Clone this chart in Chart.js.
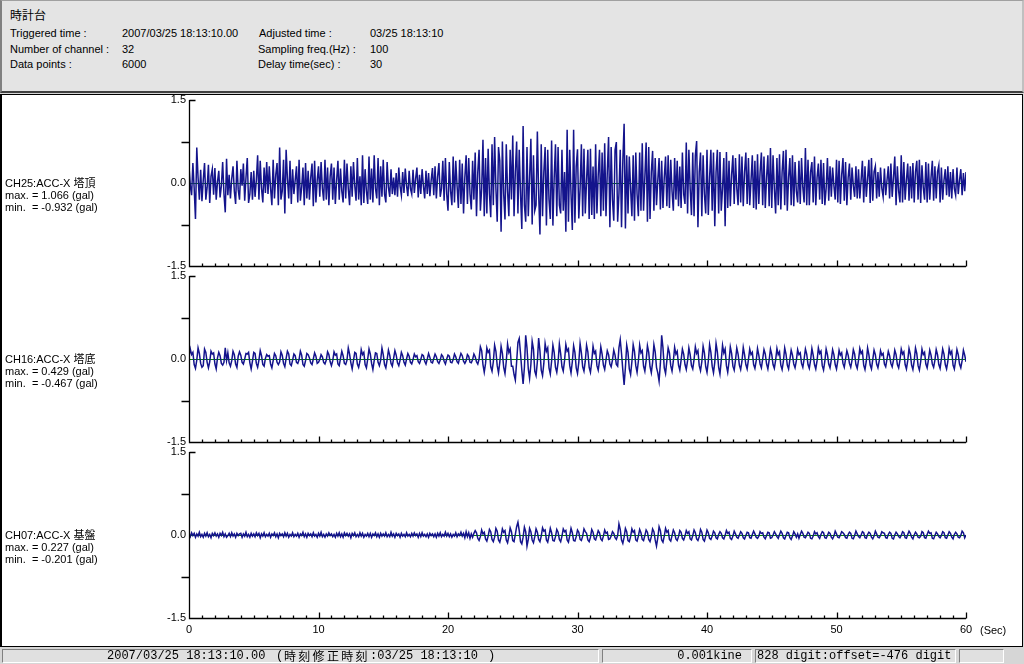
<!DOCTYPE html>
<html><head><meta charset="utf-8">
<script src="https://cdn.jsdelivr.net/npm/chart.js@4.4.1/dist/chart.umd.min.js"></script>
<style>
html,body{margin:0;padding:0;width:1024px;height:664px;overflow:hidden;background:#d6d6d6;font-family:"Liberation Sans","Noto Sans CJK JP",sans-serif;font-size:11px;color:#000;}
#hdr{position:absolute;left:0;top:0;width:1020px;height:90px;background:#e4e4e4;border-top:1px solid #a0a0a0;border-left:2px solid #808080;border-right:2px solid #c0c0c0;border-bottom:2px solid #404040;}
#panel{position:absolute;left:0;top:94px;width:1020px;height:551px;background:#fff;border:1px solid #000;border-left-width:2px;}
.t{position:absolute;white-space:nowrap;line-height:12px;}
canvas{position:absolute;left:0;}
.sb{position:absolute;top:649px;height:14px;border-top:1px solid #808080;border-left:1px solid #808080;border-bottom:1px solid #fff;border-right:1px solid #fff;box-sizing:border-box;background:#e0e0e0;}
.mono{font-family:"Liberation Mono","Noto Sans CJK JP",monospace;font-size:12px;}
.cjk{font-family:"Noto Sans CJK JP",sans-serif;font-size:12px;letter-spacing:2.3px;}
</style></head><body>
<div id="hdr"></div>
<div class="t" style="left:10px;top:10px;font-size:12px;">時計台</div>
<div class="t" style="left:10px;top:27px;">Triggered time :</div>
<div class="t" style="left:122px;top:27px;">2007/03/25 18:13:10.00</div>
<div class="t" style="left:259px;top:27px;">Adjusted time :</div>
<div class="t" style="left:370px;top:27px;">03/25 18:13:10</div>
<div class="t" style="left:10px;top:43px;">Number of channel :</div>
<div class="t" style="left:122px;top:43px;">32</div>
<div class="t" style="left:258px;top:43px;">Sampling freq.(Hz) :</div>
<div class="t" style="left:370px;top:43px;">100</div>
<div class="t" style="left:10px;top:58px;">Data points :</div>
<div class="t" style="left:122px;top:58px;">6000</div>
<div class="t" style="left:258px;top:58px;">Delay time(sec) :</div>
<div class="t" style="left:370px;top:58px;">30</div>
<div id="panel"></div>
<canvas id="c0" width="1024" height="202" style="top:90px"></canvas>
<canvas id="c1" width="1024" height="202" style="top:266px"></canvas>
<canvas id="c2" width="1024" height="202" style="top:442px"></canvas>
<div class="t" style="left:5px;top:177px;">CH25:ACC-X 塔頂</div>
<div class="t" style="left:5px;top:189px;">max. = 1.066 (gal)</div>
<div class="t" style="left:5px;top:201px;">min.&nbsp; = -0.932 (gal)</div>
<div class="t" style="left:5px;top:353px;">CH16:ACC-X 塔底</div>
<div class="t" style="left:5px;top:365px;">max. = 0.429 (gal)</div>
<div class="t" style="left:5px;top:377px;">min.&nbsp; = -0.467 (gal)</div>
<div class="t" style="left:5px;top:529px;">CH07:ACC-X 基盤</div>
<div class="t" style="left:5px;top:541px;">max. = 0.227 (gal)</div>
<div class="t" style="left:5px;top:553px;">min.&nbsp; = -0.201 (gal)</div>
<div class="t" style="left:980px;top:624px;">(Sec)</div>
<div class="sb" style="left:2px;width:597px;"></div>
<div class="sb" style="left:602px;width:150px;"></div>
<div class="sb" style="left:755px;width:201px;"></div>
<div class="sb" style="left:959px;width:45px;"></div>
<div class="t mono" style="left:107px;top:650px;">2007/03/25 18:13:10.00</div>
<div class="t mono" style="left:276px;top:650px;">(</div>
<div class="t cjk" style="left:284px;top:650px;">時刻修正時刻</div>
<div class="t mono" style="left:370px;top:650px;">:03/25 18:13:10</div>
<div class="t mono" style="left:488px;top:650px;">)</div>
<div class="t mono" style="left:610px;top:650px;width:132px;text-align:right;">0.001kine</div>
<div class="t mono" style="left:757px;top:650px;">828 digit:offset=-476 digit</div>
<script>
// Channel titles
const channels = ["CH25:ACC-X 塔頂", "CH16:ACC-X 塔底", "CH07:ACC-X 基盤"];
// Axis ranges / tick labels
const yTicks = [-1.5, -0.75, 0, 0.75, 1.5];
const xLabels = [0, 10, 20, 30, 40, 50, 60];
const DURATION = 60;
// Waveform values in 0.01 gal, 10 per second, evenly spaced over 60 s
const ch25 = [
30,-5,-22,36,-10,-65,64,10,-30,24, -33,5,36,-30,-8,33,-36,12,25,-21, 27,-30,2,22,-26,-5,38,-20,-53,44,
-22,15,-28,8,30,-15,-38,40,-12,-30, 25,-5,35,-32,10,45,-36,-20,20,-30, 22,-25,5,50,-30,40,-10,-35,28,-18,
38,-20,30,-10,-40,42,-28,15,36,-40, 64,-30,-15,42,-55,60,8,-28,40,-38, 25,-20,5,30,-35,42,-32,-8,28,-40,
36,-28,22,-30,10,35,-42,40,-35,5, 30,-25,38,-10,-32,42,-30,28,-40,12, 35,-30,28,-38,5,40,-30,26,-15,-35,
42,-28,35,-10,-40,30,-25,38,-5,-32, 45,-30,12,-40,50,-36,25,-15,-38,48, -30,26,-35,50,-10,-28,45,-40,30,-25,
42,-20,-35,38,-8,-25,25,-20,10,-22, 18,-25,28,-6,-22,20,-18,26,-5,-24, 22,-10,-20,24,-18,8,28,-26,15,-20,
25,-5,-28,22,-20,18,-24,5,27,-22, 30,-28,12,36,-25,-10,40,-32,45,-20, -50,38,-15,-40,48,-35,40,-5,-45,42,
-38,35,-55,10,50,-38,45,-20,-48,40, -30,55,-60,20,60,-50,-10,78,-60,45, -55,62,-20,-62,70,-40,83,-10,-70,65,
40,-88,75,-20,-66,70,-15,-60,60,-30, 86,-60,20,75,-55,60,-20,-83,103,-40, -70,65,-60,10,80,-75,50,-50,-40,93,
-20,-93,70,-60,20,65,-77,60,-30,-65, 77,-77,10,70,-60,65,-40,-55,60,-50, 20,-88,96,-70,60,-20,-85,96,-72,30,
61,-64,-10,70,-60,62,-55,5,60,-65, 62,-58,30,-65,70,-55,15,60,-60,55, -50,72,-60,20,83,-80,65,-30,-68,60,
74,-70,-20,60,-80,40,107,-82,50,-55, 48,-10,-60,50,-68,55,-20,-60,55,-50, 72,-50,10,73,-70,65,-65,20,58,-50,
45,-40,5,45,-48,40,-45,10,48,-42, 50,-45,42,-15,-50,45,-30,40,-42,30, -45,55,-20,-38,73,-55,60,-10,-58,55,
-60,50,76,-80,20,55,-60,50,-20,-55, 60,-58,10,60,-50,55,-78,20,60,-55, 56,-50,-10,45,-78,56,-45,40,-42,15,
50,-38,45,-10,-40,52,-35,48,-42,20, 55,-38,45,-40,5,50,-45,40,-48,52, -38,20,55,-40,48,-45,10,50,-42,63,
-45,50,-10,-55,45,-40,52,-48,20,58, -40,60,-50,10,45,-40,50,-42,38,-15, -35,40,-38,45,-8,-35,63,-40,42,-40,
20,38,-35,48,-40,10,35,-30,42,-38, 36,-40,-10,45,-32,30,-25,28,-5,-30, 42,-35,40,-38,15,45,-32,38,-40,10,
35,-30,28,-5,-25,30,-28,25,-28,5, 40,-35,30,-25,8,42,-36,45,-32,20, 30,-28,20,-25,28,-10,-25,26,-22,5,
30,-28,35,-25,10,48,-40,30,-15,-35, 50,-35,38,-30,5,35,-32,30,-28,36, -35,20,40,-30,42,-36,32,-8,-30,38,
-35,35,-30,10,40,-32,30,-28,20,32, -35,28,-30,5,25,-22,30,-25,20,-28, 25,-10,-22,28,-20,5,25,-22,18,-15,
20];
const ch16 = [
5,18,8,12,-10,-17,-2,20,10,-8, -15,-12,18,12,-6,-16,-5,14,9,11, -9,-18,2,12,6,-8,-11,-6,20,-3,
11,-7,-13,-3,14,8,-9,-15,5,13, 7,-6,-9,0,10,9,12,-7,-18,-4, 12,10,-8,-15,-2,15,6,-10,-13,1,
8,5,6,-9,-16,-3,10,6,-6,-10, -5,13,7,-8,-14,1,14,9,-9,-12, -2,9,6,-6,-8,-1,14,7,-10,-13,
-3,10,8,2,-7,-10,0,11,5,-8, -6,-1,8,4,-6,-9,-2,13,8,-5, -12,-3,13,7,9,-9,-12,1,14,6,
-8,-10,-2,20,9,-7,-18,-3,12,10, -9,-15,-4,17,8,12,-10,-16,0,18, 9,-8,-19,-3,11,10,-6,-12,-2,20,
8,-10,-16,-1,16,7,-8,-13,1,15, 7,-7,-12,-2,12,6,-6,-11,0,10, 5,-6,-9,-1,9,4,6,-5,-8,-1,
8,6,-4,-9,0,10,3,-6,-7,1, 9,4,-5,-8,-2,8,5,-4,-9,0, 7,5,-6,-7,-1,9,4,-5,-8,2,
10,6,-4,-8,-3,8,5,-6,-7,-1, 9,4,-5,-9,0,22,15,-10,-24,-8, 20,12,16,-14,-22,-5,25,14,-12,-25,
-6,23,10,-15,-26,-4,27,12,18,-13, -13,-28,-38,-5,30,37,10,-20,-45,-15, 43,20,-18,-35,-10,32,18,-22,-30,-5,
38,15,-20,-30,-8,28,14,20,-16,-27, -4,25,12,-15,-24,-6,27,10,-14,-22, -3,26,14,18,-12,-25,-5,24,12,-16,
-26,-6,28,11,-14,-22,-4,25,13,-15, -24,-5,23,10,14,-12,-20,-3,22,9, -11,-19,-2,15,8,-9,-14,-2,16,7,
-10,-13,20,35,10,-20,-47,-15,25,12, -18,-28,-5,26,14,-12,-24,-4,25,11, 15,-13,-22,-3,24,12,-14,-25,-6,26,
13,-15,-25,-40,-8,43,20,-16,-26,-3, 20,11,-12,-22,-4,21,9,14,-11,-20, -2,18,9,-10,-19,-3,20,8,-12,-18,
-1,22,10,15,-12,-21,-5,23,11,-14, -24,-4,26,12,-13,-25,-6,28,13,-15, -27,-3,25,11,18,-12,-24,-5,22,10,
-13,-20,-2,20,9,-11,-19,-4,21,8, -10,-18,-1,18,8,12,-10,-17,-3,19, 7,-9,-16,0,17,9,-9,-18,-2,18,
8,-10,-17,-2,19,8,13,-11,-19,-4, 20,9,-11,-18,-1,16,7,-9,-16,-3, 17,8,11,-8,-15,0,18,9,-10,-17,
-2,19,7,-10,-18,-3,20,10,14,-12, -20,-4,18,8,-9,-16,-1,17,8,-10, -18,-3,16,7,11,-8,-15,0,15,7,
-8,-15,-2,17,9,-10,-17,-2,19,10, 14,-11,-19,-4,20,8,-11,-18,-1,16, 8,-9,-16,-3,15,7,10,-9,-14,0,
14,6,-8,-14,-2,16,8,-10,-16,-2, 18,9,13,-10,-18,-3,19,9,-11,-19, -3,20,10,-12,-20,-5,18,8,12,-9,
-16,-1,16,7,-9,-15,-2,17,8,-10, -17,0,18,9,-10,-18,-4,19,9,14, -11,-18,-2,17,8,-9,-16,-3,16,7,
-5];
const ch07 = [
2,-3,4,-1,3,-4,2,-2,5,-3, 1,-4,3,-2,4,-3,1,-5,3,-1, 4,-2,2,-4,3,-1,5,-3,2,-4,
-1,3,-3,4,-2,2,-4,3,-1,2, 3,-4,2,-2,5,-3,1,-4,3,-2, 2,-3,4,-1,3,-5,2,-2,4,-3,
1,-2,3,-4,2,-1,4,-3,2,-5, 3,-1,2,-3,4,-2,3,-4,1,-2, 4,-3,1,-2,3,-4,2,-1,5,-3,
2,-4,3,-1,2,-3,4,-2,1,-4, 3,-2,5,-3,1,-4,2,-2,4,-1, 2,-3,1,-4,3,-2,4,-3,2,-4,
4,-1,3,-2,2,-5,3,-1,4,-3, 1,-3,4,-2,3,-4,1,-2,3,-3, 3,-4,2,-1,4,-3,2,-4,3,-2,
2,-2,4,-3,1,-3,5,-2,2,-4, 3,-1,2,-4,3,-2,1,-3,4,-2, 1,-3,3,-2,4,-1,2,-4,3,-3,
4,-2,1,-3,2,-4,3,-1,2,-3, 2,-4,3,-2,4,-3,1,-2,5,-2, 3,-3,2,-4,1,-2,4,-3,2,-1,
5,-2,3,-5,6,-3,4,-6,2,-4, 3,8,4,-6,-10,-3,9,2,5,-7, -11,-2,10,6,-8,-12,-4,12,7,-9,
-13,-3,11,5,8,-9,-14,-2,13,6, -10,-12,1,15,23,8,-12,-16,-4,14, 6,-20,-8,12,6,-9,-14,-3,11,5,
-8,-12,-2,13,7,9,-9,-13,-1,12, 4,-10,-11,-3,10,5,-8,-12,-2,11, 6,8,-9,-13,-1,12,4,-10,-11,-3,
9,5,-8,-10,-2,11,6,3,-9,-12, -4,10,5,-7,-9,-1,8,4,-7,-10, -2,9,3,5,-8,-7,-2,6,3,-5,
-8,-1,20,10,-9,-15,-4,12,6,-10, -12,-3,11,5,8,-9,-11,-2,10,4, -8,-10,-1,9,5,-8,-12,-3,11,6,
-9,-20,-5,15,8,-9,-13,-2,12,5, 8,-8,-11,-1,9,4,-7,-10,-3,8, 5,-6,-9,-2,8,3,6,-7,-9,-1,
9,4,-7,-10,-3,10,5,-8,-11,-2, 9,4,-6,-8,-2,7,4,-5,-7,1, 6,3,-5,-7,-1,8,3,5,-6,-8,
-2,7,2,-4,-6,0,6,3,-5,-7, -1,5,4,-5,-6,1,7,2,-4,-6, -2,6,3,4,-4,-7,-1,5,4,-6,
-5,0,6,2,-3,-6,1,7,3,-5, -7,-1,5,4,-5,-8,-2,6,2,-4, 2,-6,1,7,3,-4,-5,0,5,3,
-6,-7,-2,6,2,4,-3,-6,1,6, 4,-5,-6,-1,5,3,-4,-7,-2,7, 2,-4,-5,0,6,4,1,-5,-6,1,
5,3,-6,-7,-1,7,2,-3,-5,0, 6,4,-5,-6,1,5,3,-4,-7,-2, 7,2,-4,-5,-1,6,4,3,-5,-6,
1,5,3,-6,-7,0,5,2,-3,-5, -1,6,4,-5,-6,1,7,3,-4,-7, 0,5,2,-4,-5,-2,6,4,-5,-6,
1,7,3,4,-6,-7,-1,5,2,-3, -5,-1,6,4,-5,-6,0,6,3,-4, -7,1,5,2,-4,-5,-1,7,4,-5,
0];
const series = [ch25, ch16, ch07];

const toPoints = arr => arr.map((v, i) => ({x: i * DURATION / (arr.length - 1), y: v / 100}));

const deco = {
  id: 'deco',
  beforeDatasetsDraw(chart) {
    const {ctx, chartArea: a, scales: {y}} = chart;
    const y0 = Math.round(y.getPixelForValue(0)) + 0.5;
    ctx.save();
    ctx.strokeStyle = '#008000'; ctx.lineWidth = 1;
    ctx.beginPath(); ctx.moveTo(a.left, y0); ctx.lineTo(a.right, y0); ctx.stroke();
    ctx.restore();
  },
  afterDatasetsDraw(chart) {
    const {ctx, chartArea: a, scales: {x, y}} = chart;
    ctx.save();
    ctx.strokeStyle = '#000'; ctx.lineWidth = 1.3;
    const L = Math.round(a.left) + 0.5, B = Math.round(a.bottom) + 0.5;
    ctx.beginPath();
    ctx.moveTo(L, a.top); ctx.lineTo(L, B); ctx.lineTo(a.right, B);
    for (let t = 0; t <= DURATION; t++) {
      const px = Math.round(x.getPixelForValue(t)) + 0.5;
      const len = (t % 10 === 0) ? 6 : 3;
      ctx.moveTo(px, B); ctx.lineTo(px, B - len);
    }
    yTicks.forEach(v => {
      const py = Math.round(y.getPixelForValue(v)) + 0.5;
      if (Math.abs(v) === 0.75) { ctx.moveTo(L - 8, py); ctx.lineTo(L, py); }
      if (v === 1.5) { ctx.moveTo(L, py); ctx.lineTo(L + 6, py); }
    });
    ctx.stroke();
    ctx.restore();
  }
};

series.forEach((arr, idx) => {
  new Chart(document.getElementById('c' + idx), {
    type: 'line',
    data: { datasets: [{ label: channels[idx], data: toPoints(arr), borderColor: '#14148c', borderWidth: 1.5, pointRadius: 0, tension: 0, fill: false }] },
    options: {
      responsive: false, animation: false, events: [],
      layout: { padding: { left: 0, right: 58, top: 10, bottom: 0 } },
      plugins: { legend: { display: false }, tooltip: { enabled: false } },
      scales: {
        x: {
          type: 'linear', min: 0, max: DURATION,
          afterBuildTicks: s => { s.ticks = Array.from({length: DURATION + 1}, (_, i) => ({value: i})); },
          afterFit: s => { s.height = 26; },
          grid: { display: false, drawTicks: false }, border: { display: false },
          ticks: { display: idx === 2, autoSkip: false, maxRotation: 0, minRotation: 0, padding: 5, color: '#000',
            font: { family: 'Liberation Sans', size: 11 },
            callback: v => xLabels.includes(v) ? String(v) : '' }
        },
        y: {
          min: -1.5, max: 1.5,
          afterBuildTicks: s => { s.ticks = yTicks.map(v => ({value: v})); },
          afterFit: s => { s.width = 189; },
          grid: { display: false, drawTicks: false }, border: { display: false },
          ticks: { padding: 3, color: '#000', font: { family: 'Liberation Sans', size: 11 },
            callback: v => v === 0 ? '0.0' : (Math.abs(v) === 1.5 ? v.toFixed(1) : '') }
        }
      }
    },
    plugins: [deco]
  });
});
</script>
</body></html>
